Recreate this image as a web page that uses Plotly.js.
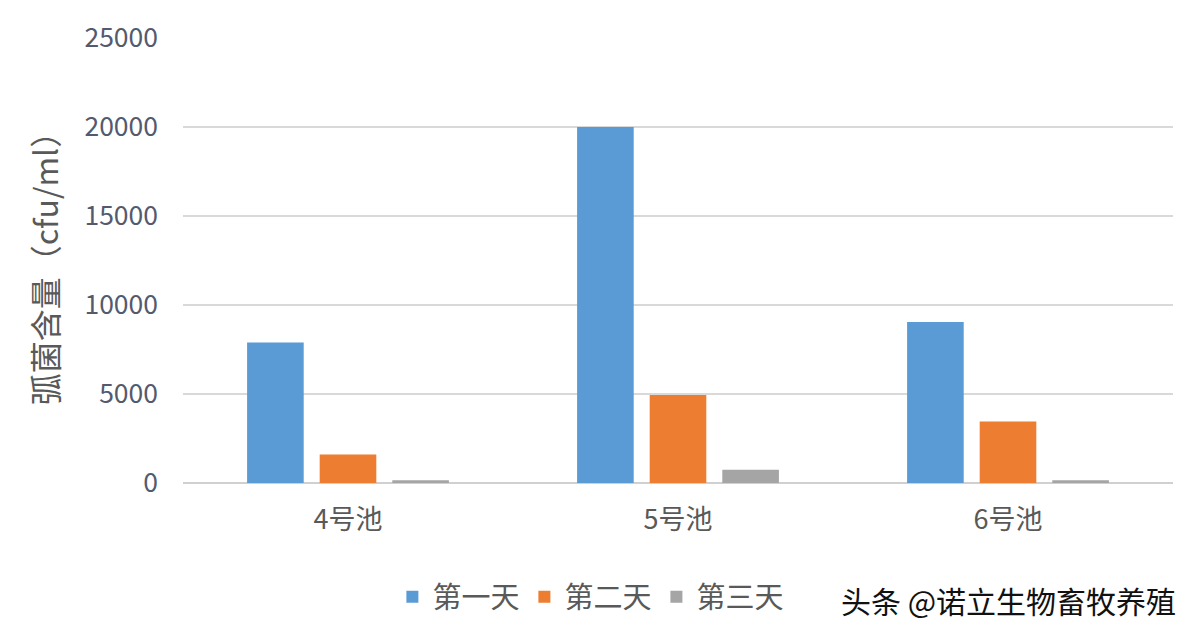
<!DOCTYPE html>
<html>
<head>
<meta charset="utf-8">
<script src="https://cdn.plot.ly/plotly-3.0.1.min.js"></script>
<style>html,body{margin:0;padding:0;background:#fff;}#chart{width:1200px;height:635px;}</style>
</head>
<body>
<div id="chart"></div>
<script>
var categories = ["4号池", "5号池", "6号池"];
var seriesNames = ["第一天", "第二天", "第三天"];
var day1 = [7900, 20000, 9050];
var day2 = [1600, 4950, 3450];
var day3 = [150, 750, 150];
var yTicks = [0, 5000, 10000, 15000, 20000, 25000];
var colors = ["#5b9bd5", "#ed7d31", "#a5a5a5"];
var yTitle = "弧菌含量（cfu/ml）";
var watermark = "头条 @诺立生物畜牧养殖";

var font = "'Noto Sans CJK SC', 'Noto Sans', sans-serif";
var textColor = "#595959";
var values = [day1, day2, day3];
var traces = values.map(function (v, i) {
  return {
    type: "bar",
    name: seriesNames[i],
    x: categories,
    y: v,
    marker: {color: colors[i]},
    hoverinfo: "x+y+name"
  };
});

var layout = {
  width: 1200,
  height: 635,
  paper_bgcolor: "#ffffff",
  plot_bgcolor: "#ffffff",
  margin: {l: 183, r: 27, t: 38, b: 152},
  barmode: "group",
  bargap: 0.34,
  bargroupgap: 0.22,
  font: {family: font, color: textColor},
  xaxis: {
    type: "category",
    showgrid: false,
    showline: false,
    zeroline: false,
    ticks: "",
    ticklabelstandoff: 18,
    tickfont: {size: 27, color: textColor, family: font}
  },
  yaxis: {
    range: [0, 25000],
    tickvals: yTicks,
    ticktext: yTicks.map(String),
    showgrid: true,
    gridcolor: "#d9d9d9",
    gridwidth: 1.3,
    zeroline: true,
    zerolinecolor: "#d0d0d0",
    zerolinewidth: 1.5,
    showline: false,
    ticks: "",
    ticklabelstandoff: 24,
    tickfont: {size: 26.5, color: "#545a6e", family: font},
    title: {text: yTitle, font: {size: 32, color: textColor, family: font}, standoff: 16},
    automargin: false
  },
  showlegend: true,
  legend: {
    orientation: "h",
    x: 0.412,
    xanchor: "center",
    y: -0.256,
    yanchor: "middle",
    font: {size: 29, color: textColor, family: font},
    itemwidth: 30,
    tracegroupgap: 0
  },
  annotations: [{
    text: watermark,
    xref: "paper",
    yref: "paper",
    x: 0.834,
    y: -0.262,
    xanchor: "center",
    yanchor: "middle",
    showarrow: false,
    font: {size: 30, color: "#111111", family: font}
  }]
};

Plotly.newPlot("chart", traces, layout, {displayModeBar: false, staticPlot: true});
</script>
</body>
</html>
